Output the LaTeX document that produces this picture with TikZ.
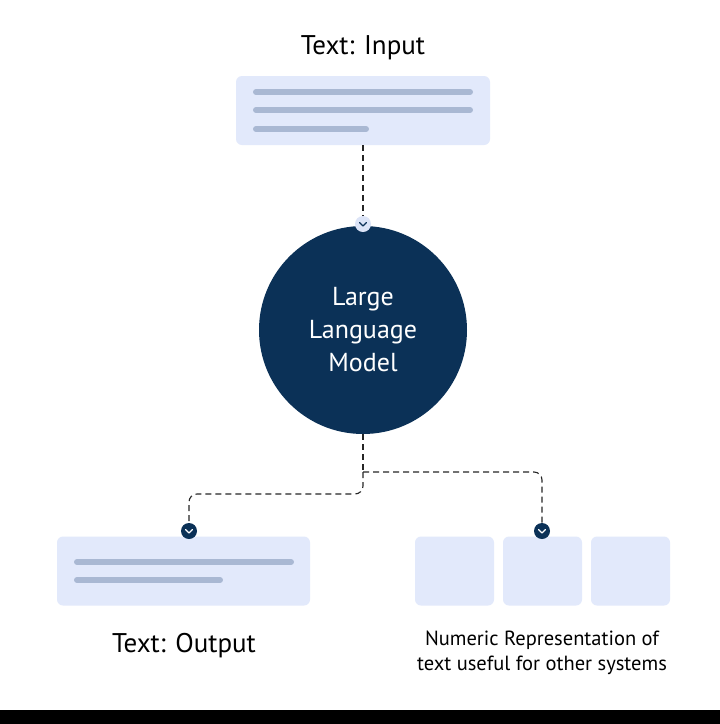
\documentclass[tikz,border=0pt]{standalone}
\usepackage{fontspec}
\setmainfont{PT Sans}
\usetikzlibrary{calc}
\definecolor{navy}{HTML}{0B3157}
\definecolor{cardfill}{HTML}{E2E9FB}
\definecolor{barline}{HTML}{A9B8D3}
\definecolor{dotfill}{HTML}{DCE4F7}
\newcommand{\chev}[2]{\draw[#2, line width=1.3pt, line cap=round, line join=round] ($(#1)+(-3.5,-1.5)$) -- ($(#1)+(0,2)$) -- ($(#1)+(3.5,-1.5)$);}

\begin{document}
\begin{tikzpicture}[x=1pt,y=-1pt,
  card/.style={fill=cardfill, rounded corners=6pt, inner sep=0pt},
  bar/.style={draw=barline, line width=6pt, line cap=round},
  link/.style={draw=black!85, line width=1.1pt, dash pattern=on 6pt off 4pt, rounded corners=8pt},
  dot/.style={circle, minimum size=16pt, inner sep=0pt},
  lbl/.style={font=\fontsize{27}{30}\selectfont, text=black}]
\useasboundingbox (0,0) rectangle (720,724);
\fill[white] (0,0) rectangle (720,724);
\fill[black] (0,710) rectangle (720,724);

% input
\node[lbl] (t_in) at (363,48) {Text: Input};
\node[card, minimum width=254pt, minimum height=69pt] (in) at (363,110.5) {};
\draw[bar] (256,92) -- (470,92);
\draw[bar] (256,110) -- (470,110);
\draw[bar] (256,129) -- (366,129);

% model
\node[circle, fill=navy, minimum size=208pt, text=white, align=center,
  font=\fontsize{26}{33}\selectfont] (llm) at (363,330) {Large\\Language\\Model};
\node[dot, fill=dotfill] (d_in) at (363,224) {};
\chev{d_in}{navy}

% outputs
\node[card, minimum width=253pt, minimum height=69pt] (out) at (183.5,571) {};
\draw[bar] (77,562) -- (291,562);
\draw[bar] (77,580) -- (220,580);
\foreach \i in {0,1,2} {
  \node[card, minimum width=79pt, minimum height=69pt] (v_\i) at (454.5+\i*88,571) {};
}
\node[lbl] (t_out) at (184,646) {Text: Output};
\node[font=\fontsize{20.5}{25}\selectfont, align=center] (t_num) at (542,653)
  {Numeric Representation of\\text useful for other systems};

\node[dot, fill=navy] (d_l) at (189,531) {};
\node[dot, fill=navy] (d_r) at (542,531) {};

% links
\coordinate (split) at (363,472);
\draw[link] (in.south) -- (d_in.north);
\draw[link] (llm.south) -- (split);
\draw[link] (split) -| (d_r.north);
\draw[link] (split) -- ($(split)+(0,22)$) -| (d_l.north);
\chev{d_l}{white}
\chev{d_r}{white}
\end{tikzpicture}
\end{document}
